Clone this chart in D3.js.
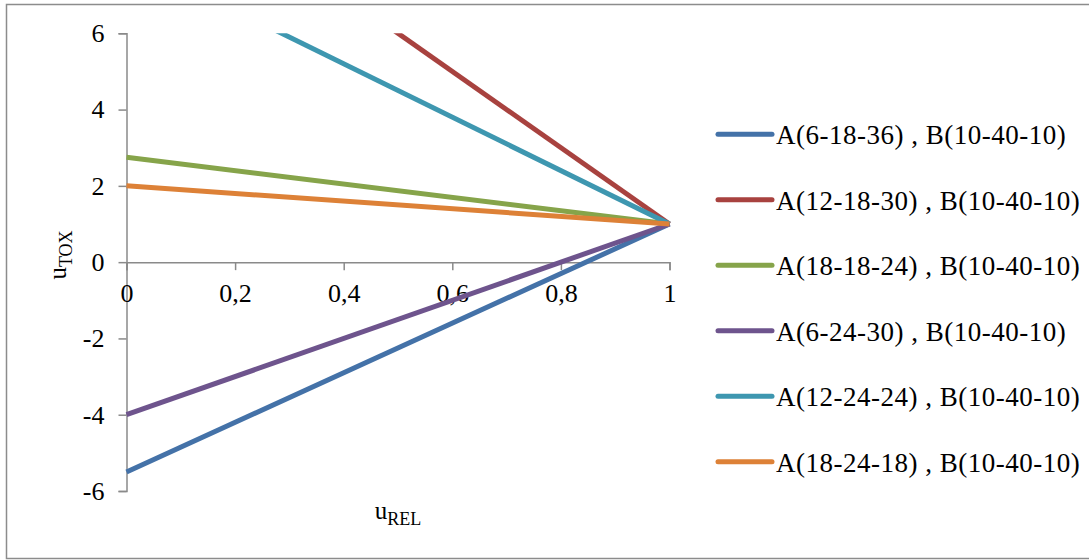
<!DOCTYPE html>
<html>
<head>
<meta charset="utf-8">
<script src="https://cdn.jsdelivr.net/npm/d3@7"></script>
<style>
  html, body { margin: 0; padding: 0; background: #fff; }
  svg { display: block; }
  text { font-family: "Liberation Serif", "Times New Roman", serif; fill: #000; }
</style>
</head>
<body>
<svg id="chart" width="1089" height="560"></svg>
<script>
// u_REL sample points (x axis)
const uRel = [0, 1];

// u_TOX for each configuration at u_REL = 0 and u_REL = 1
const seriesNames = [
  "A(6-18-36) , B(10-40-10)",
  "A(12-18-30) , B(10-40-10)",
  "A(18-18-24) , B(10-40-10)",
  "A(6-24-30) , B(10-40-10)",
  "A(12-24-24) , B(10-40-10)",
  "A(18-24-18) , B(10-40-10)"
];
const a6_18_36  = [-5.5, 1];
const a12_18_30 = [11, 1];
const a18_18_24 = [2.75, 1];
const a6_24_30  = [-4, 1];
const a12_24_24 = [8, 1];
const a18_24_18 = [2, 1];
const seriesValues = [a6_18_36, a12_18_30, a18_18_24, a6_24_30, a12_24_24, a18_24_18];

const seriesColors = ["#4472a8", "#a8423f", "#86a44a", "#6e548d", "#3e97b0", "#dd8137"];

const xTicks = [0, 0.2, 0.4, 0.6, 0.8, 1];
const xTickLabels = ["0", "0,2", "0,4", "0,6", "0,8", "1"];
const yTicks = [-6, -4, -2, 0, 2, 4, 6];

const svg = d3.select("#chart");

// outer chart frame
svg.append("rect")
  .attr("x", 6.5).attr("y", 4.5)
  .attr("width", 1100).attr("height", 554)
  .attr("fill", "#fff")
  .attr("stroke", "#8c8c8c")
  .attr("stroke-width", 1.5);

const x = d3.scaleLinear().domain([0, 1]).range([126.5, 669.5]);
const y = d3.scaleLinear().domain([-6, 6]).range([491, 33.3]);

const axisColor = "#8a8a8a";

// clip for the plotting area (lines leave the top of the range)
svg.append("defs").append("clipPath").attr("id", "plotClip")
  .append("rect")
  .attr("x", x(0) - 5).attr("y", y(6))
  .attr("width", x(1) - x(0) + 10).attr("height", y(-6) - y(6));

// y axis
const yAxis = svg.append("g")
  .attr("transform", `translate(${x(0)},0)`)
  .call(d3.axisLeft(y).tickValues(yTicks).tickSize(8).tickPadding(14)
        .tickFormat(d => d < 0 ? "-" + Math.abs(d) : String(d)));
yAxis.selectAll("path, line").attr("stroke", axisColor).attr("stroke-width", 1.5);
yAxis.selectAll("text").attr("font-size", 26)
  .attr("font-family", "Liberation Serif, serif").attr("fill", "#000");

// x axis at u_TOX = 0
const xAxis = svg.append("g")
  .attr("transform", `translate(0,${y(0)})`)
  .call(d3.axisBottom(x).tickValues(xTicks).tickSize(8).tickPadding(13)
        .tickFormat((d, i) => xTickLabels[i]));
xAxis.selectAll("path, line").attr("stroke", axisColor).attr("stroke-width", 1.5);
xAxis.selectAll("text").attr("font-size", 26)
  .attr("font-family", "Liberation Serif, serif").attr("fill", "#000");

// series lines
const line = d3.line().x((d, i) => x(uRel[i])).y(d => y(d));
const plot = svg.append("g").attr("clip-path", "url(#plotClip)");
seriesValues.forEach((vals, i) => {
  plot.append("path")
    .datum(vals)
    .attr("d", line)
    .attr("fill", "none")
    .attr("stroke", seriesColors[i])
    .attr("stroke-width", 5)
    .attr("stroke-linecap", "butt");
});

// axis titles
const xTitle = svg.append("text")
  .attr("x", 398).attr("y", 519)
  .attr("text-anchor", "middle")
  .attr("font-size", 25);
xTitle.append("tspan").text("u");
xTitle.append("tspan").attr("font-size", 18).attr("dy", 6).text("REL");

const yTitle = svg.append("text")
  .attr("transform", "translate(66,255) rotate(-90)")
  .attr("text-anchor", "middle")
  .attr("font-size", 25);
yTitle.append("tspan").text("u");
yTitle.append("tspan").attr("font-size", 18).attr("dy", 6).text("TOX");

// legend
const legend = svg.append("g");
seriesNames.forEach((name, i) => {
  const ly = 134.3 + i * 65.5;
  legend.append("line")
    .attr("x1", 718).attr("x2", 772)
    .attr("y1", ly).attr("y2", ly)
    .attr("stroke", seriesColors[i])
    .attr("stroke-width", 5)
    .attr("stroke-linecap", "round");
  legend.append("text")
    .attr("x", 776).attr("y", ly + 10)
    .attr("font-size", 27)
    .attr("letter-spacing", 0.5)
    .text(name);
});
</script>
</body>
</html>
